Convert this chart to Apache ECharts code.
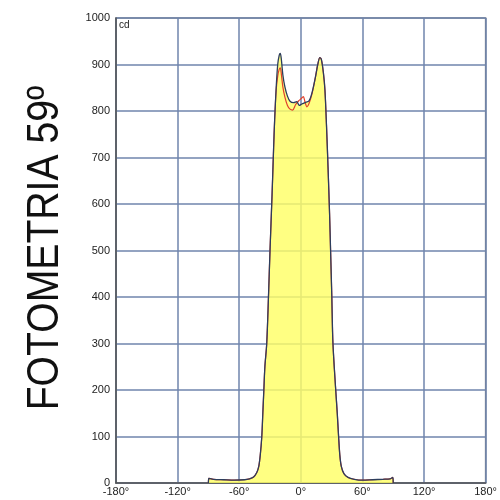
<!DOCTYPE html>
<html><head><meta charset="utf-8">
<script src="https://cdn.jsdelivr.net/npm/echarts@6/dist/echarts.min.js"></script>
<style>html,body{margin:0;padding:0;background:#fff}#c{width:500px;height:500px}</style>
</head><body><div id="c"></div>
<script>
const xTicks = [-180, -120, -60, 0, 60, 120, 180];
const yTicks = [0, 100, 200, 300, 400, 500, 600, 700, 800, 900, 1000];
const navyCurve = [
 [-90,0],[-89.6,10],[-85,8],[-75,7],[-65,6],[-55,7],[-50,9],[-46,13],[-43,22],[-41,35],[-39.5,60],[-38,100],[-37,150],[-36,200],[-35,250],[-33.2,300],[-31.5,400],[-30,500],[-28,620],[-26.5,720],[-25.5,780],[-24,850],[-22.5,900],[-21,920],[-20,924],[-19,912],[-17.5,878],[-15.5,852],[-13,832],[-10.5,821],[-7,818],[-4,820],[-1.5,812],[1,815],[4,818],[8,822],[11,840],[14,870],[16.5,900],[18.5,915],[20,911],[22,882],[23.5,845],[25,770],[26.5,680],[28,580],[29,500],[30.2,400],[31.3,300],[34,200],[35.5,150],[36.8,100],[38,60],[39.5,35],[42,20],[46,12],[52,8],[60,6],[70,7],[80,8],[87,9],[89.6,12],[90,0]
];
const redCurve = [
 [-90,0],[-89.6,10],[-85,8],[-75,7],[-65,6],[-55,7],[-50,9],[-46,13],[-43,22],[-41,35],[-39.5,60],[-38,100],[-37,150],[-36,200],[-35,250],[-33.2,300],[-31.5,400],[-30,500],[-28,620],[-26.5,720],[-25.5,780],[-24,845],[-22.5,875],[-21,890],[-20,893],[-19,880],[-17.5,852],[-15.5,830],[-13,812],[-10.5,804],[-8,802],[-5,814],[-2,822],[1,828],[2.5,831],[4,820],[6,809],[8,816],[11,838],[14,870],[16.5,900],[18.5,915],[20,911],[22,882],[23.5,845],[25,770],[26.5,680],[28,580],[29,500],[30.2,400],[31.3,300],[34,200],[35.5,150],[36.8,100],[38,60],[39.5,35],[42,20],[46,12],[52,8],[60,6],[70,7],[80,8],[87,9],[89.6,12],[90,0]
];
const unitLabel = 'cd';
const sideTitle = 'FOTOMETRIA 59º';

const chart = echarts.init(document.getElementById('c'), null, {renderer:'canvas'});
chart.setOption({
  animation:false,
  backgroundColor:'#fff',
  grid:{left:116,right:13,top:18,bottom:17,show:true,borderColor:'#7a7f88',borderWidth:1.5},
  xAxis:{type:'value',min:xTicks[0],max:xTicks[xTicks.length-1],interval:60,
    axisLine:{show:true,onZero:false,lineStyle:{color:'#555',width:1.5}},axisTick:{show:false},
    axisLabel:{color:'#222',fontSize:11,fontFamily:'Liberation Sans',margin:3,formatter:v=>v+'°'},
    splitLine:{show:true,lineStyle:{color:'#6f84ad',width:1.5}}},
  yAxis:{type:'value',min:yTicks[0],max:yTicks[yTicks.length-1],interval:100,
    axisLine:{show:true,onZero:false,lineStyle:{color:'#555',width:1.5}},axisTick:{show:false},
    axisLabel:{color:'#222',fontSize:11,fontFamily:'Liberation Sans',margin:6,formatter:v=>String(v)},
    splitLine:{show:true,lineStyle:{color:'#6f84ad',width:1.5}}},
  graphic:[
    {type:'text',left:119,top:20,style:{text:unitLabel,fontSize:10,fontFamily:'Liberation Sans',fill:'#222'}},
    {type:'text',x:46,y:248,rotation:Math.PI/2,scaleX:0.87,
      style:{text:sideTitle,fontSize:45,fontFamily:'Liberation Sans',fill:'#111',align:'center',verticalAlign:'middle'}}
  ],
  series:[
    {type:'line',data:navyCurve,symbol:'none',smooth:0.3,z:1,silent:true,
      lineStyle:{width:0,opacity:0},areaStyle:{color:'#ffff66',opacity:0.82}},
    {type:'line',data:redCurve,symbol:'none',smooth:0.3,z:2,lineStyle:{color:'#e0402a',width:1.2}},
    {type:'line',data:navyCurve,symbol:'none',smooth:0.3,z:3,lineStyle:{color:'#2c3d5c',width:1.3}}
  ]
});
</script></body></html>
